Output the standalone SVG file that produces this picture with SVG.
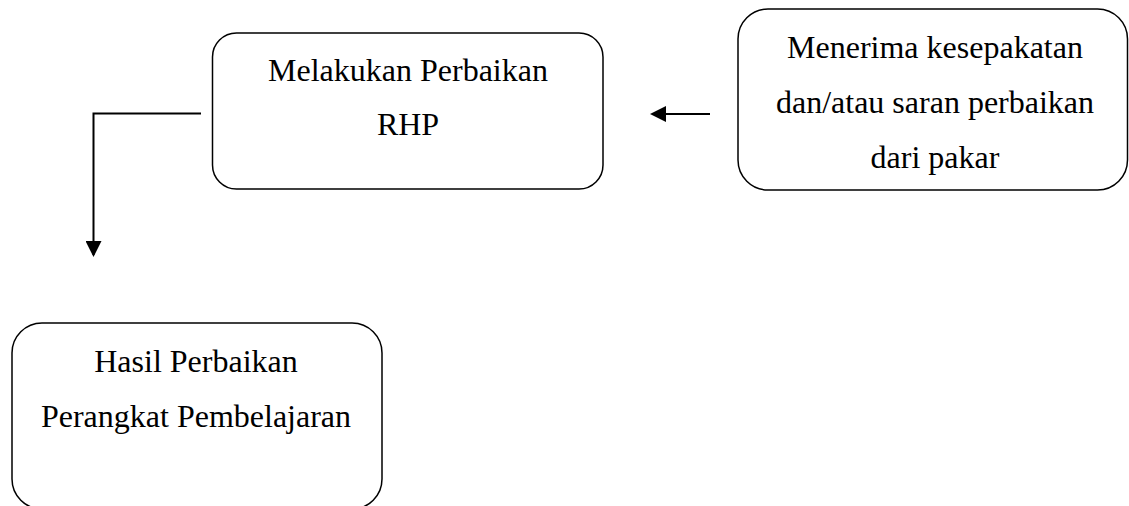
<svg xmlns="http://www.w3.org/2000/svg" width="1129" height="506" viewBox="0 0 1129 506">
<style>
.box{fill:#fff;stroke:#000;stroke-width:1.5}
.t{font-family:"Liberation Serif","Times New Roman",serif;font-size:32px;fill:#000;text-anchor:middle}
.c{fill:none;stroke:#000;stroke-width:2}
</style>
<defs>
<marker id="ah" markerWidth="8" markerHeight="8" refX="7" refY="4" orient="auto" markerUnits="strokeWidth">
<path d="M0,0 L8,4 L0,8 z" fill="#000"/>
</marker>
</defs>
<rect width="1129" height="506" fill="#fff"/>
<g id="connectors">
<path class="c" d="M710,114 L652,114" marker-end="url(#ah)"/>
<path class="c" d="M201,113.5 L93.5,113.5 L93.5,255" marker-end="url(#ah)"/>
</g>
<g id="node-perbaikan">
<rect class="box" x="212.5" y="33" width="390.5" height="156" rx="24"/>
<text class="t" x="408" y="81">Melakukan Perbaikan</text>
<text class="t" x="408" y="135">RHP</text>
</g>
<g id="node-menerima">
<rect class="box" x="738" y="9" width="389.5" height="181" rx="30"/>
<text class="t" x="935" y="58">Menerima kesepakatan</text>
<text class="t" x="935" y="113">dan/atau saran perbaikan</text>
<text class="t" x="935" y="168">dari pakar</text>
</g>
<g id="node-hasil">
<rect class="box" x="12" y="323" width="370" height="186" rx="30"/>
<text class="t" x="196" y="372">Hasil Perbaikan</text>
<text class="t" x="196" y="427">Perangkat Pembelajaran</text>
</g>
</svg>
